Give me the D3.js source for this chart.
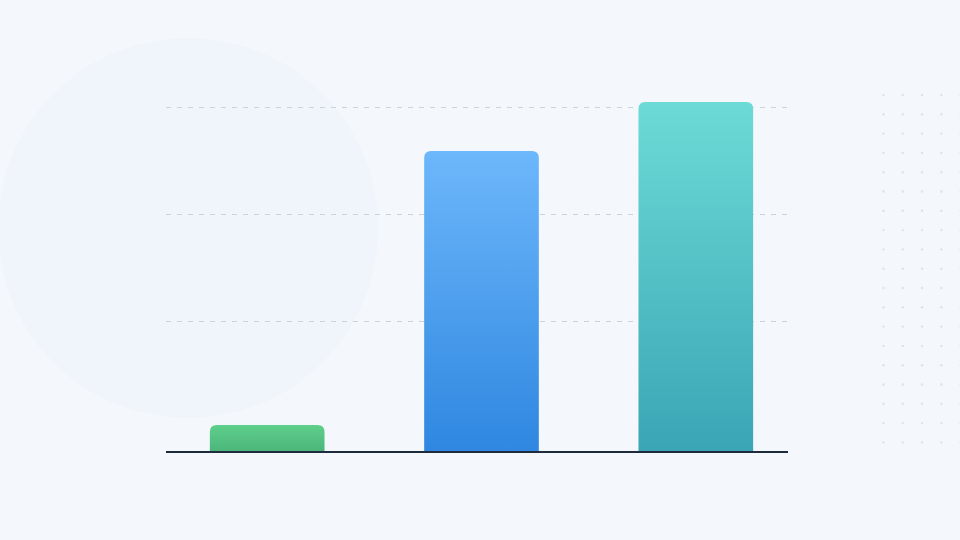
<!DOCTYPE html>
<html>
<head>
<meta charset="utf-8">
<script src="https://cdn.jsdelivr.net/npm/d3@7"></script>
<style>
  html, body { margin: 0; padding: 0; background: #f4f7fb; }
  svg { display: block; }
</style>
</head>
<body>
<svg width="960" height="540"></svg>
<script>
const categories = ['A', 'B', 'C'];
const values = [7.7, 86, 100];
const gridValues = [37.4, 68, 98.6];
const topColors = ['#5fcf8b', '#6db7fb', '#6cdbd6'];
const bottomColors = ['#4bb57a', '#2f87e0', '#3aa5b5'];

const width = 960, height = 540;
const svg = d3.select('svg');

// background
svg.append('rect').attr('width', width).attr('height', height).attr('fill', '#f4f7fb');
svg.append('circle').attr('cx', 188).attr('cy', 228).attr('r', 190).attr('fill', '#f0f4fb');

// dot pattern on the right
const dotCols = d3.range(5), dotRows = d3.range(19);
const dots = svg.append('g');
dotRows.forEach(r => dotCols.forEach(c => {
  dots.append('circle')
    .attr('cx', 883.5 + c * 19.3)
    .attr('cy', 95 + r * 19.3)
    .attr('r', 1.2)
    .attr('fill', '#dce3ed');
}));

const xScale = d3.scaleBand()
  .domain(categories)
  .range([167, 796])
  .paddingInner(0.465)
  .paddingOuter(0.2);
const yScale = d3.scaleLinear().domain([0, 100]).range([452, 102]);

// gradients
const defs = svg.append('defs');
categories.forEach((c, i) => {
  const g = defs.append('linearGradient')
    .attr('id', 'grad' + i)
    .attr('x1', 0).attr('y1', 0).attr('x2', 0).attr('y2', 1);
  g.append('stop').attr('offset', '0%').attr('stop-color', topColors[i]);
  g.append('stop').attr('offset', '100%').attr('stop-color', bottomColors[i]);
});

// grid lines
svg.append('g')
  .selectAll('line')
  .data(gridValues)
  .enter()
  .append('line')
  .attr('x1', 166).attr('x2', 788)
  .attr('y1', d => Math.round(yScale(d)) + 0.5)
  .attr('y2', d => Math.round(yScale(d)) + 0.5)
  .attr('stroke', '#cdd2da')
  .attr('stroke-width', 1)
  .attr('stroke-dasharray', '5 6');

// bars with rounded tops
function barPath(x, y, w, h, r) {
  r = Math.min(r, h, w / 2);
  return `M${x},${y + h}V${y + r}Q${x},${y} ${x + r},${y}H${x + w - r}Q${x + w},${y} ${x + w},${y + r}V${y + h}Z`;
}

svg.append('g')
  .selectAll('path')
  .data(values)
  .enter()
  .append('path')
  .attr('d', (d, i) => {
    const x = xScale(categories[i]);
    const y = yScale(d);
    return barPath(x, y, xScale.bandwidth(), yScale(0) - y, 7);
  })
  .attr('fill', (d, i) => `url(#grad${i})`);

// baseline
svg.append('line')
  .attr('x1', 166).attr('x2', 788)
  .attr('y1', yScale(0)).attr('y2', yScale(0))
  .attr('stroke', '#1d2b3c')
  .attr('stroke-width', 2);
</script>
</body>
</html>
